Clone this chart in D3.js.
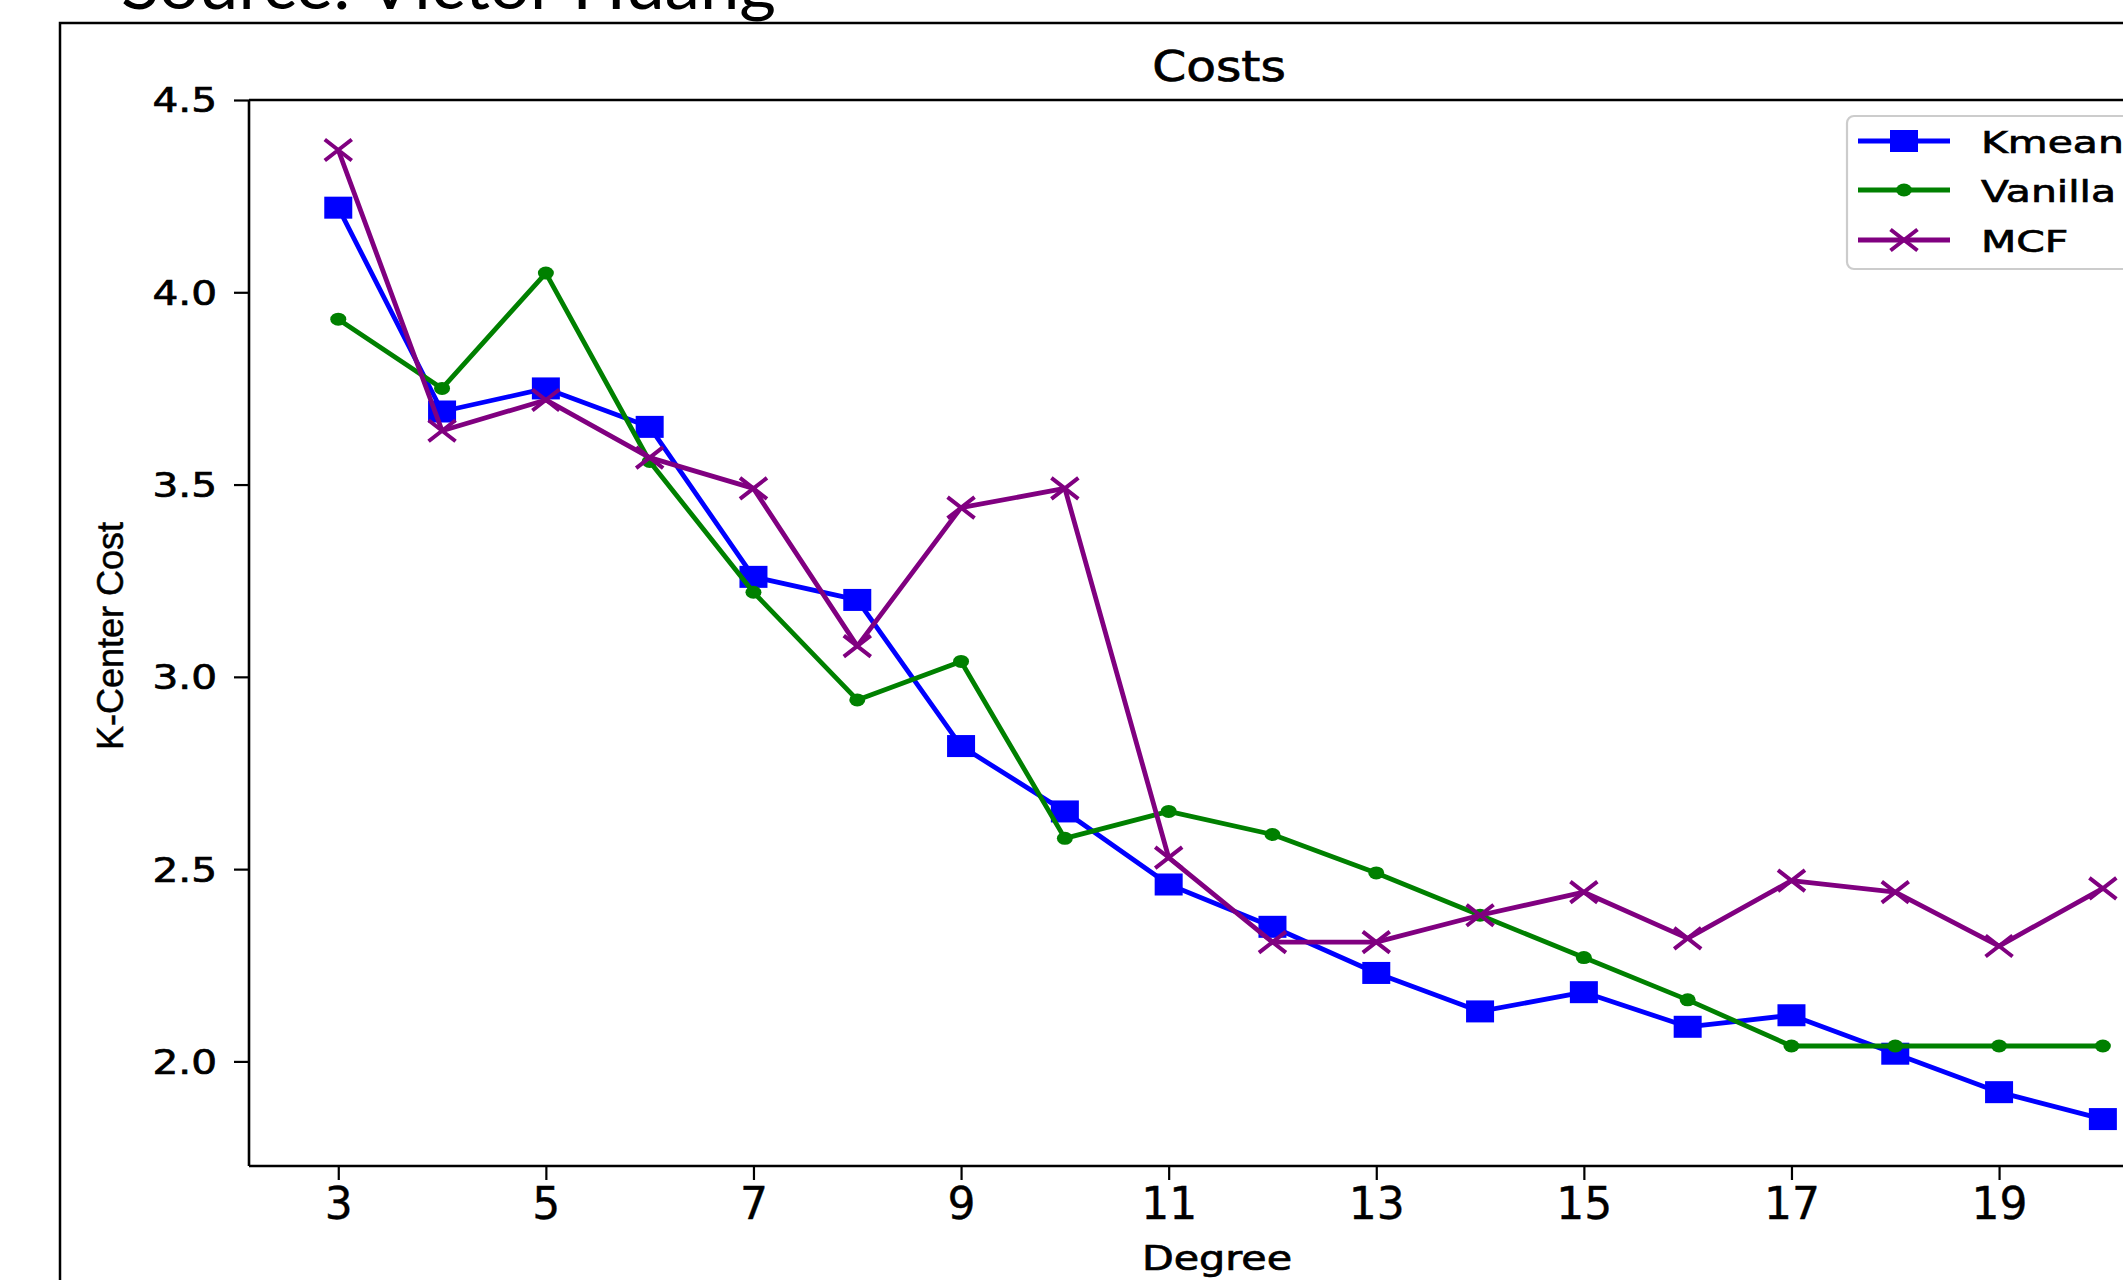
<!DOCTYPE html>
<html>
<head>
<meta charset="utf-8">
<script src="https://cdn.jsdelivr.net/npm/d3@7"></script>
<style>
  html, body { margin: 0; padding: 0; background: #fff; }
  svg { display: block; }
</style>
</head>
<body>
<script>
// ---- data ----
const degrees = [3,4,5,6,7,8,9,10,11,12,13,14,15,16,17,18,19,20];
const kmeans  = [4.22,3.69,3.75,3.65,3.26,3.20,2.82,2.65,2.46,2.35,2.23,2.13,2.18,2.09,2.12,2.02,1.92,1.85];
const vanilla = [3.93,3.75,4.05,3.56,3.22,2.94,3.04,2.58,2.65,2.59,2.49,2.38,2.27,2.16,2.04,2.04,2.04,2.04];
const mcf     = [4.37,3.64,3.72,3.57,3.49,3.08,3.44,3.49,2.53,2.31,2.31,2.38,2.44,2.32,2.47,2.44,2.30,2.45];
const seriesNames = ["Kmeans","Vanilla","MCF"];
const xTickValues = [3,5,7,9,11,13,15,17,19];
const yTickValues = [2.0,2.5,3.0,3.5,4.0,4.5];
const chartTitle = "Costs";
const xLabel = "Degree";
const yLabel = "K-Center Cost";
const sourceText = "Source: Victor Huang";

const W = 2123, H = 1280;
const svg = d3.select("body").append("svg").attr("width", W).attr("height", H);

// outer frame (extends beyond the visible area)
svg.append("rect").attr("x", 60).attr("y", 23).attr("width", 2300).attr("height", 1400)
  .attr("fill", "none").attr("stroke", "#000").attr("stroke-width", 2.5);

// source text (top cut off)
svg.append("text").attr("x", 121).attr("y", 9)
  .attr("font-family", "Lato, 'Open Sans', sans-serif").attr("font-weight", 400)
  .attr("font-size", 68).attr("textLength", 655).attr("lengthAdjust", "spacingAndGlyphs")
  .attr("fill", "#000").text(sourceText);

const plotLeft = 249, plotTop = 100, plotBottom = 1166;
const x = d3.scaleLinear().domain([2.14, 20.86]).range([plotLeft, plotLeft + 18.72 * 103.8]);
const y = d3.scaleLinear().domain([1.728, 4.5]).range([plotBottom, plotTop]);

const g = svg.append("g");
const textStroke = 0.7;

// spines
g.append("line").attr("x1", plotLeft).attr("x2", 2300).attr("y1", plotTop).attr("y2", plotTop)
  .attr("stroke", "#000").attr("stroke-width", 2.6);

// x axis
const xAxis = g.append("g").attr("transform", `translate(0,${plotBottom})`)
  .call(d3.axisBottom(x).tickValues(xTickValues).tickFormat(d3.format("d")).tickSize(14).tickPadding(8));
xAxis.select(".domain").attr("stroke-width", 2.6).attr("d", `M${plotLeft},0H2300`);
xAxis.selectAll(".tick line").attr("stroke-width", 2.2);
xAxis.selectAll(".tick text").attr("font-family", "'DejaVu Sans', sans-serif").attr("font-size", 44)
  .attr("fill", "#000").attr("stroke", "#000").attr("stroke-width", 0.4);

// y axis
const yAxis = g.append("g").attr("transform", `translate(${plotLeft},0)`)
  .call(d3.axisLeft(y).tickValues(yTickValues).tickFormat(d3.format(".1f")).tickSize(15).tickPadding(17));
yAxis.select(".domain").attr("stroke-width", 2.6).attr("d", `M0,${plotTop}V${plotBottom}`);
yAxis.selectAll(".tick line").attr("stroke-width", 2.2);
yAxis.selectAll(".tick text")
  .attr("font-family", "'DejaVu Sans', sans-serif").attr("font-size", 33).attr("fill", "#000")
  .attr("stroke", "#000").attr("stroke-width", textStroke)
  .attr("x", 0).attr("dy", "0.36em")
  .attr("transform", "translate(-32,0) scale(1.23,1)");

// title
svg.append("text").attr("transform", "translate(1219,81) scale(1.16,1)")
  .attr("text-anchor", "middle").attr("font-family", "'DejaVu Sans', sans-serif")
  .attr("font-size", 42).attr("fill", "#000").attr("stroke", "#000").attr("stroke-width", textStroke)
  .text(chartTitle);

// x label
svg.append("text").attr("transform", "translate(1217,1270) scale(1.25,1)")
  .attr("text-anchor", "middle").attr("font-family", "'DejaVu Sans', sans-serif")
  .attr("font-size", 33).attr("fill", "#000").attr("stroke", "#000").attr("stroke-width", textStroke)
  .text(xLabel);

// y label
svg.append("text").attr("transform", "translate(123,636) rotate(-90)")
  .attr("text-anchor", "middle").attr("font-family", "'Liberation Sans', Arial, sans-serif")
  .attr("font-size", 36).attr("fill", "#000").attr("stroke", "#000").attr("stroke-width", 0.5)
  .text(yLabel);

// series
const colors = ["#0000ff", "#008000", "#800080"];
const allSeries = [kmeans, vanilla, mcf];
const markerKinds = ["square", "circle", "x"];

function drawMarker(sel, kind, color, cx, cy) {
  if (kind === "square") {
    sel.append("rect").attr("x", cx - 14).attr("y", cy - 11).attr("width", 28).attr("height", 22)
      .attr("fill", color);
  } else if (kind === "circle") {
    sel.append("ellipse").attr("cx", cx).attr("cy", cy).attr("rx", 8).attr("ry", 6.5).attr("fill", color);
  } else {
    const dx = 13.5, dy = 10.5;
    sel.append("path").attr("d", `M${cx-dx},${cy-dy}L${cx+dx},${cy+dy}M${cx-dx},${cy+dy}L${cx+dx},${cy-dy}`)
      .attr("stroke", color).attr("stroke-width", 4).attr("fill", "none");
  }
}

const line = d3.line().x(d => x(d[0])).y(d => y(d[1]));
allSeries.forEach((vals, i) => {
  const pts = degrees.map((d, j) => [d, vals[j]]);
  const sg = g.append("g");
  sg.append("path").datum(pts).attr("d", line).attr("fill", "none")
    .attr("stroke", colors[i]).attr("stroke-width", 4.8).attr("stroke-linejoin", "round");
  pts.forEach(p => drawMarker(sg, markerKinds[i], colors[i], x(p[0]), y(p[1])));
});

// legend
const lg = svg.append("g");
lg.append("rect").attr("x", 1847).attr("y", 116).attr("width", 400).attr("height", 153).attr("rx", 7)
  .attr("fill", "#fff").attr("fill-opacity", 0.85).attr("stroke", "#cccccc").attr("stroke-width", 2.2);
const legendY = [141, 190, 240];
seriesNames.forEach((name, i) => {
  const ly = legendY[i];
  lg.append("line").attr("x1", 1858).attr("x2", 1950).attr("y1", ly).attr("y2", ly)
    .attr("stroke", colors[i]).attr("stroke-width", 4.8);
  drawMarker(lg, markerKinds[i], colors[i], 1904, ly);
  lg.append("text").attr("transform", `translate(1981,${ly + 11.5}) scale(1.32,1)`)
    .attr("font-family", "'DejaVu Sans', sans-serif").attr("font-size", 31).attr("fill", "#000")
    .attr("stroke", "#000").attr("stroke-width", textStroke).text(name);
});
</script>
</body>
</html>
